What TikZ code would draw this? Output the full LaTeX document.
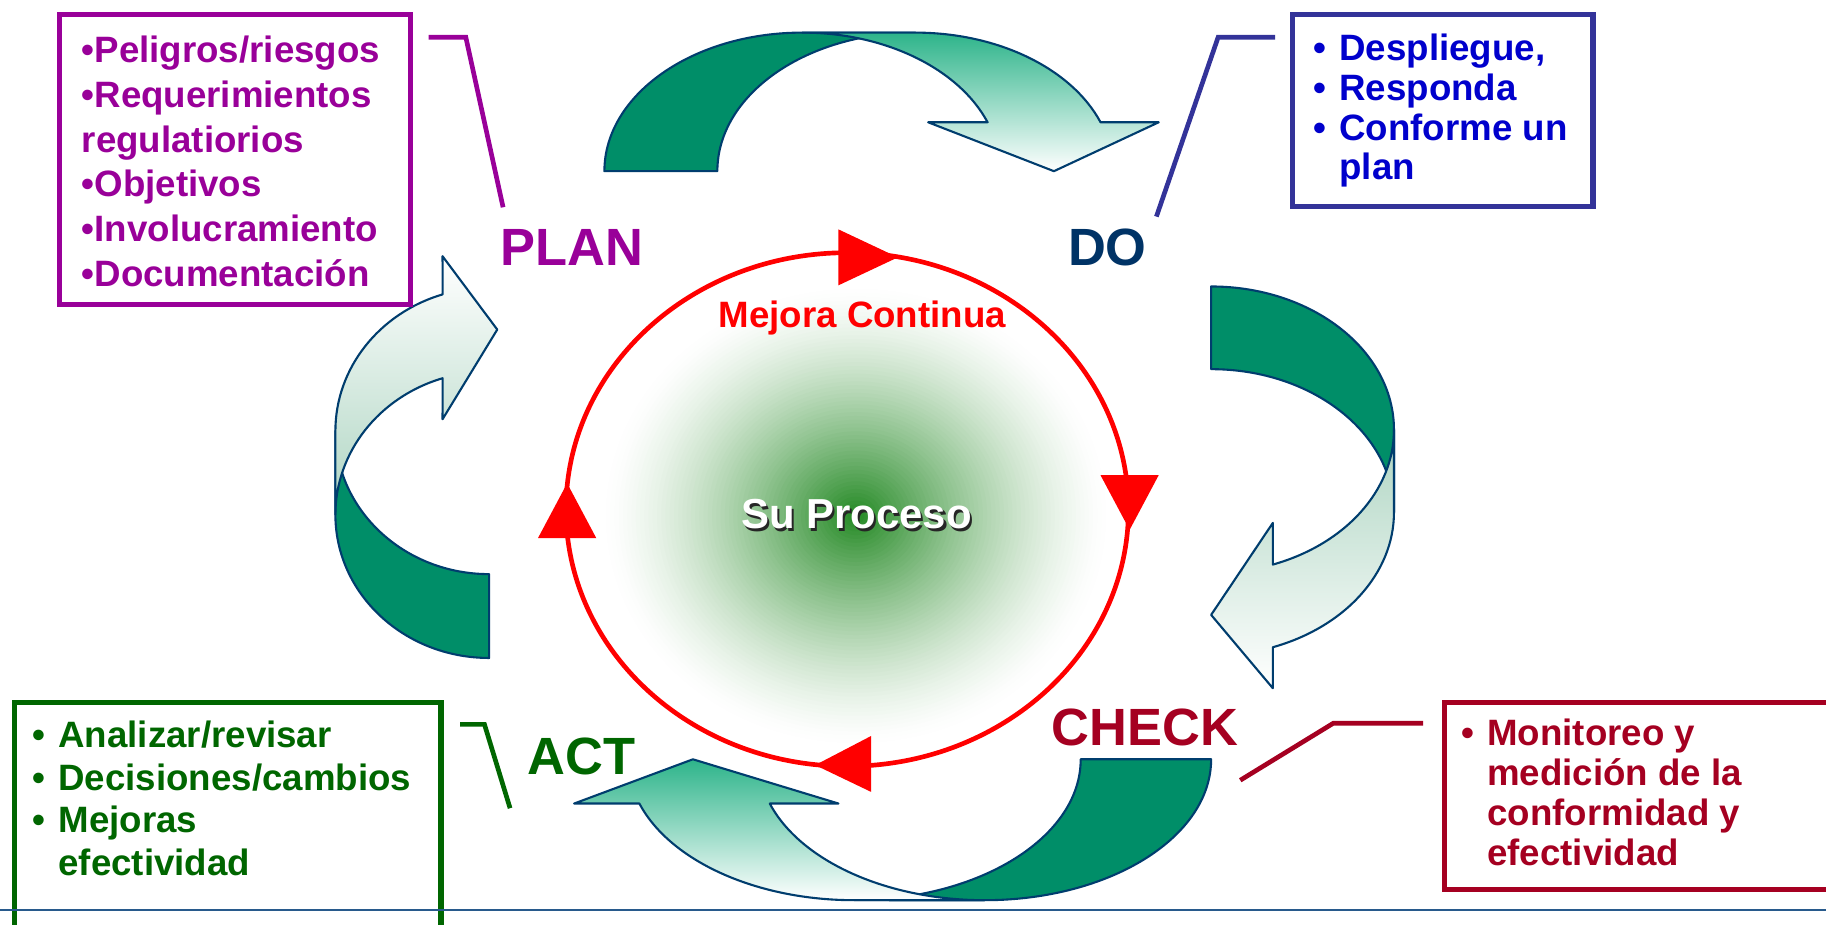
\documentclass[tikz,border=0pt]{standalone}
\usepackage{fontspec}
\setmainfont{Liberation Sans}
\definecolor{planc}{RGB}{153,0,153}
\definecolor{doc}{RGB}{51,51,153}
\definecolor{dotext}{RGB}{0,0,204}
\definecolor{dolbl}{RGB}{0,51,102}
\definecolor{checkc}{RGB}{165,0,33}
\definecolor{actc}{RGB}{0,102,0}
\definecolor{arrsolid}{RGB}{0,142,104}
\definecolor{arrteal}{RGB}{45,180,138}
\definecolor{arrlight}{RGB}{174,213,194}
\definecolor{arrline}{RGB}{0,61,110}
\definecolor{gcen}{RGB}{34,136,34}
\definecolor{baseblue}{RGB}{40,90,140}
\newcommand\boxfnt{\fontsize{31.5}{38}\selectfont\bfseries}
\newcommand\lblfnt{\fontsize{45}{54}\selectfont\bfseries}
\newcommand\bul{\makebox[22pt][l]{•}}
\begin{document}
\begin{tikzpicture}[x=1pt,y=-1pt,
  backfill/.style={fill=arrsolid, draw=arrline, line width=1.8pt, line join=round},
  frontfill/.style={draw=arrline, line width=1.8pt, line join=round},
  boxtxt/.style={anchor=base west, inner sep=0pt, font=\boxfnt},
  lbl/.style={anchor=base west, inner sep=0pt, font=\lblfnt},
  infobox/.style={draw, line width=4.5pt, anchor=north west, inner sep=0pt, outer sep=0pt},
  conn/.style={line width=4pt}]
\fill[white] (0,0) rectangle (1568,794.3);
\useasboundingbox (0,0) rectangle (1568,794.3);
\clip (0,0) rectangle (1568,794.3);

% glow (stepped radial fade) and cycle ring
\foreach \i in {1,...,59} {
  \pgfmathsetmacro\gmix{100*(\i/60)^1.4}
  \pgfmathsetmacro\grx{218*(1-\i/60)}
  \pgfmathsetmacro\gry{198*(1-\i/60)}
  \fill[gcen!\gmix!white] (735,443) ellipse [x radius=\grx, y radius=\gry];
}
\draw[red, line width=4pt] (727.5,437.5) ellipse [x radius=241.5, y radius=220.5];
\fill[red] (720,197) -- (771,221) -- (720,245) -- cycle;
\fill[red] (945,408) -- (995,408) -- (970,455) -- cycle;
\fill[red] (748,632) -- (700,657) -- (748,680) -- cycle;
\fill[red] (462,462) -- (512,462) -- (487,415) -- cycle;

% top arrow (PLAN -> DO)
\filldraw[backfill] (519,147) arc[start angle=180, end angle=270, x radius=170, y radius=119]
  -- (786,28) arc[start angle=270, end angle=180, x radius=170, y radius=119] -- cycle;
\shadedraw[frontfill, top color=arrteal, bottom color=white]
  (786,28) arc[start angle=270, end angle=339.33, x radius=170, y radius=119]
  -- (995,105) -- (905,147) -- (797,105) -- (848.05,105)
  arc[start angle=339.33, end angle=270, x radius=170, y radius=119] -- cycle;

% right arrow (DO -> CHECK)
\filldraw[backfill] (1040,246) arc[start angle=-90, end angle=0, x radius=157, y radius=123]
  -- (1197,440) arc[start angle=0, end angle=-90, x radius=157, y radius=123] -- cycle;
\shadedraw[frontfill, top color=arrlight, bottom color=white]
  (1197,440) arc[start angle=0, end angle=70.27, x radius=157, y radius=123]
  -- (1093,591) -- (1040,528) -- (1093,449) -- (1093,484.8)
  arc[start angle=70.27, end angle=0, x radius=157, y radius=123] -- cycle;

% bottom arrow (CHECK -> ACT)
\filldraw[backfill] (1040,652) arc[start angle=0, end angle=90, x radius=194.4, y radius=121]
  -- (733.6,773) arc[start angle=90, end angle=0, x radius=194.4, y radius=121] -- cycle;
\shadedraw[frontfill, top color=arrteal, bottom color=white]
  (733.6,773) arc[start angle=90, end angle=161.7, x radius=194.4, y radius=121]
  -- (493,690) -- (595,652) -- (720,690) -- (661,690)
  arc[start angle=161.7, end angle=90, x radius=194.4, y radius=121] -- cycle;

% left arrow (ACT -> PLAN)
\filldraw[backfill] (420,493) arc[start angle=90, end angle=180, x radius=132, y radius=123]
  -- (288,442) arc[start angle=180, end angle=90, x radius=132, y radius=123] -- cycle;
\shadedraw[frontfill, top color=white, bottom color=arrlight]
  (288,442) arc[start angle=180, end angle=252.4, x radius=132, y radius=123]
  -- (380,360) -- (427,283) -- (380,220) -- (380.1,252.8)
  arc[start angle=252.4, end angle=180, x radius=132, y radius=123] -- cycle;

% centre texts
\node[anchor=base, inner sep=0pt, text=red, font=\fontsize{31.5}{38}\selectfont\bfseries] (mejora) at (740.5,281) {Mejora Continua};
\node[anchor=base, inner sep=0pt, text=black!85, font=\fontsize{36}{43}\selectfont\bfseries] (procshadow) at (737.5,456.5) {Su Proceso};
\node[anchor=base, inner sep=0pt, text=white, font=\fontsize{36}{43}\selectfont\bfseries] (proc) at (735.5,454) {Su Proceso};

% stage labels
\node[lbl, text=planc] (plan) at (430,228) {PLAN};
\node[lbl, text=dolbl] (do) at (917,228) {DO};
\node[lbl, text=checkc] (check) at (903,640) {CHECK};
\node[lbl, text=actc] (act) at (453,665) {ACT};

% boxes
\node[infobox, draw=planc, minimum width=301.4pt, minimum height=249.4pt] (planbox) at (51.3,12.3) {};
\node[infobox, draw=doc, minimum width=258pt, minimum height=165pt] (dobox) at (1110,12.5) {};
\node[infobox, draw=checkc, minimum width=345pt, minimum height=160.4pt] (checkbox) at (1240.3,603.3) {};
\node[infobox, draw=actc, minimum width=366.4pt, minimum height=230pt] (actbox) at (12.3,603.3) {};

% box texts
\node[boxtxt, text=planc] (p1) at (70,54) {•Peligros/riesgos};
\node[boxtxt, text=planc] (p2) at (70,92.5) {•Requerimientos};
\node[boxtxt, text=planc] (p3) at (70,131) {regulatiorios};
\node[boxtxt, text=planc] (p4) at (70,169) {•Objetivos};
\node[boxtxt, text=planc] (p5) at (70,207.5) {•Involucramiento};
\node[boxtxt, text=planc] (p6) at (70,246) {•Documentación};

\node[boxtxt, text=dotext] (d1) at (1128,52) {\bul Despliegue,};
\node[boxtxt, text=dotext] (d2) at (1128,86.5) {\bul Responda};
\node[boxtxt, text=dotext] (d3) at (1128,120.5) {\bul Conforme un};
\node[boxtxt, text=dotext] (d4) at (1150,154.5) {plan};

\node[boxtxt, text=checkc] (c1) at (1255,640) {\bul Monitoreo y};
\node[boxtxt, text=checkc] (c2) at (1277,674.5) {medición de la};
\node[boxtxt, text=checkc] (c3) at (1277,709) {conformidad y};
\node[boxtxt, text=checkc] (c4) at (1277,743) {efectividad};

\node[boxtxt, text=actc] (a1) at (28,642) {\bul Analizar/revisar};
\node[boxtxt, text=actc] (a2) at (28,678.5) {\bul Decisiones/cambios};
\node[boxtxt, text=actc] (a3) at (28,715) {\bul Mejoras};
\node[boxtxt, text=actc] (a4) at (50,751.5) {efectividad};

% connectors from boxes to labels
\coordinate (pc0) at (368,32); \coordinate (pc1) at (400,32); \coordinate (pc2) at (432,178);
\draw[conn, planc] (pc0) -- (pc1) -- (pc2);
\coordinate (dc0) at (1095,32); \coordinate (dc1) at (1046,32); \coordinate (dc2) at (993,186);
\draw[conn, doc] (dc0) -- (dc1) -- (dc2);
\coordinate (cc0) at (1222,621); \coordinate (cc1) at (1145,621); \coordinate (cc2) at (1065,670);
\draw[conn, checkc] (cc0) -- (cc1) -- (cc2);
\coordinate (ac0) at (395,622); \coordinate (ac1) at (416,622); \coordinate (ac2) at (438,694);
\draw[conn, actc] (ac0) -- (ac1) -- (ac2);

% bottom rule
\coordinate (bl0) at (0,781.5); \coordinate (bl1) at (1568,781.5);
\draw[baseblue, line width=2pt] (bl0) -- (bl1);
\end{tikzpicture}
\end{document}
